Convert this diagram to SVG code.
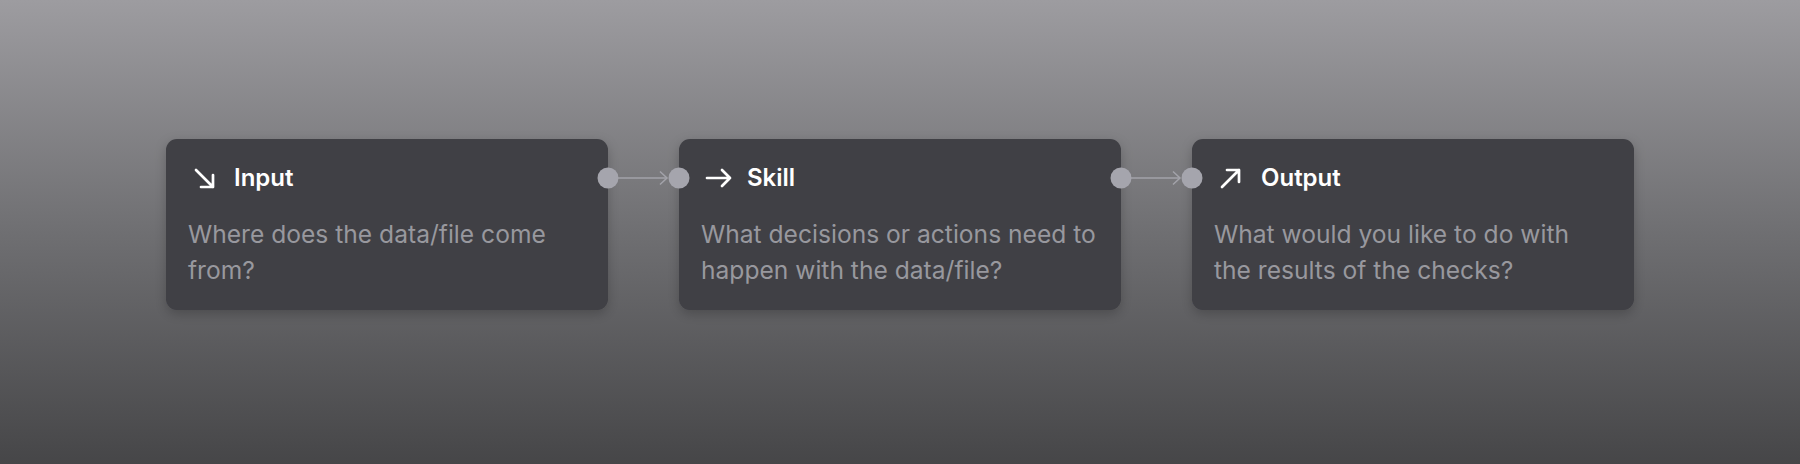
<svg xmlns="http://www.w3.org/2000/svg" width="1800" height="464" viewBox="0 0 1800 464">
<defs>
<linearGradient id="bg" x1="0" y1="0" x2="0" y2="1">
<stop offset="0" stop-color="#9d9ca0"/>
<stop offset="0.5" stop-color="#6f6f72"/>
<stop offset="1" stop-color="#464648"/>
</linearGradient>
<filter id="sh" x="-10%" y="-20%" width="120%" height="150%">
<feDropShadow dx="0" dy="4" stdDeviation="6" flood-color="#000" flood-opacity="0.22"/>
</filter>
<marker id="arr" markerWidth="12" markerHeight="16" refX="9" refY="8" orient="auto" markerUnits="userSpaceOnUse">
<path d="M2,1.5 L9,8 L2,14.5" fill="none" stroke="#a3a3aa" stroke-width="1.5"/>
</marker>
</defs>
<style>
.box{fill:#3f3f44;filter:url(#sh)}
.title{font-family:Inter,"Noto Sans",sans-serif;font-size:24px;font-weight:600;fill:#ffffff}
.body{font-family:Inter,"Noto Sans",sans-serif;font-size:24.6px;font-weight:400;fill:#98989e}
.icon{fill:none;stroke:#ffffff;stroke-width:2.7;stroke-linecap:round;stroke-linejoin:round}
.port{fill:#a5a5ad}
.edge{stroke:#a3a3aa;stroke-width:1.5;fill:none}
</style>
<rect width="1800" height="464" fill="url(#bg)"/>
<g id="input">
<rect class="box" x="166" y="139" width="442" height="171" rx="11"/>
<path class="icon" d="M196,170 L213,187 M213,175 L213,187 L201,187"/>
<text class="title" x="234" y="186">Input</text>
<text class="body" x="188" y="243">Where does the data/file come</text>
<text class="body" x="188" y="279">from?</text>
</g>
<g id="skill">
<rect class="box" x="679" y="139" width="442" height="171" rx="11"/>
<path class="icon" d="M707,178 L730,178 M722,170 L730,178 L722,186"/>
<text class="title" x="747" y="186">Skill</text>
<text class="body" x="701" y="243">What decisions or actions need to</text>
<text class="body" x="701" y="279">happen with the data/file?</text>
</g>
<g id="output">
<rect class="box" x="1192" y="139" width="442" height="171" rx="11"/>
<path class="icon" d="M1222,187 L1239,170 M1227,170 L1239,170 L1239,182"/>
<text class="title" x="1261" y="186">Output</text>
<text class="body" x="1214" y="243">What would you like to do with</text>
<text class="body" x="1214" y="279">the results of the checks?</text>
</g>
<g id="connectors">
<line class="edge" x1="618" y1="178" x2="667" y2="178" marker-end="url(#arr)"/>
<line class="edge" x1="1131" y1="178" x2="1180" y2="178" marker-end="url(#arr)"/>
<circle class="port" cx="608" cy="178" r="10.5"/>
<circle class="port" cx="679" cy="178" r="10.5"/>
<circle class="port" cx="1121" cy="178" r="10.5"/>
<circle class="port" cx="1192" cy="178" r="10.5"/>
</g>
</svg>
